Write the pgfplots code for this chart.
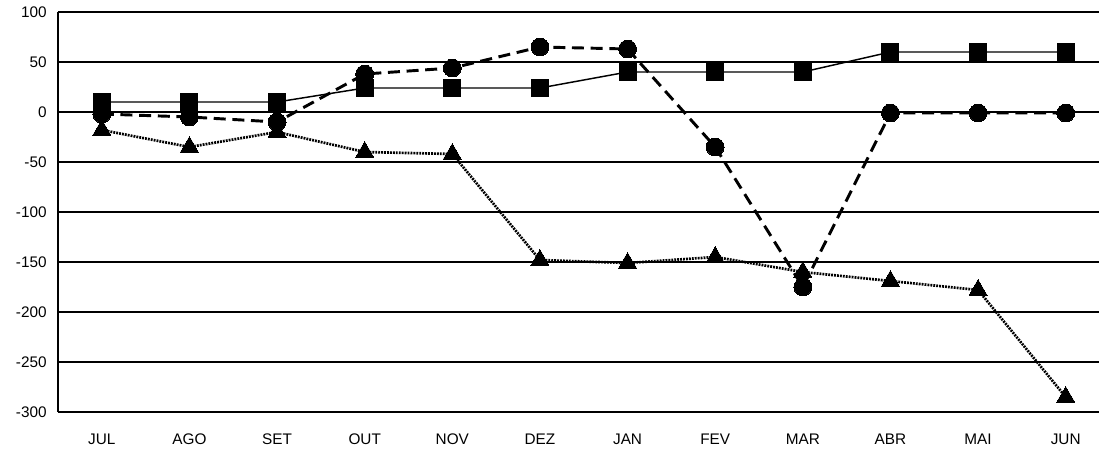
\documentclass[border=0pt]{standalone}
\usepackage{fontspec}
\setmainfont{Liberation Sans}
\usepackage{pgfplots}
\pgfplotsset{compat=1.18}
\begin{document}
\begin{tikzpicture}
\useasboundingbox (-43.5pt,-29.25pt) rectangle (780.75pt,309pt);
\begin{axis}[
  at={(0,0)}, anchor=south west,
  scale only axis,
  width=780.75pt, height=300pt,
  xmin=-0.5, xmax=11.38,
  ymin=-300, ymax=100,
  axis x line=bottom, axis y line=left,
  axis line style={line width=2.2pt, -},
  xtick={0,...,11},
  xticklabels={JUL,AGO,SET,OUT,NOV,DEZ,JAN,FEV,MAR,ABR,MAI,JUN},
  ytick={-300,-250,-200,-150,-100,-50,0,50,100},
  yticklabels={-300,-250,-200,-150,-100,-50,0,50,100},
  major tick length=0pt,
  ymajorgrids,
  grid style={line width=1.1pt, black},
  tick label style={font=\fontsize{11.5pt}{13pt}\selectfont},
  yticklabel style={xshift=-5pt},
  xticklabel style={yshift=-13pt},
]
\addplot[black, line width=1.1pt, mark=square*, mark size=6.4pt, mark options={solid, fill=black, line width=0pt}]
coordinates {(0,10) (1,10) (2,10) (3,24) (4,24) (5,24) (6,40) (7,40) (8,40) (9,60) (10,60) (11,60)};
\addplot[black, line width=2.2pt, dash pattern=on 9pt off 5pt, mark=*, mark size=6.7pt, mark options={solid, fill=black, line width=0pt}]
coordinates {(0,-2) (1,-5) (2,-10) (3,38) (4,44) (5,65) (6,63) (7,-35) (8,-175) (9,-1) (10,-1) (11,-1)};
\addplot[black, line width=2pt, dash pattern=on 1.4pt off 0.8pt, mark=triangle*, mark size=7.8pt, mark options={solid, fill=black, line width=0pt}]
coordinates {(0,-18) (1,-35) (2,-20) (3,-40) (4,-42) (5,-148) (6,-151) (7,-145) (8,-160) (9,-169) (10,-178) (11,-285)};
\end{axis}
\end{tikzpicture}
\end{document}
